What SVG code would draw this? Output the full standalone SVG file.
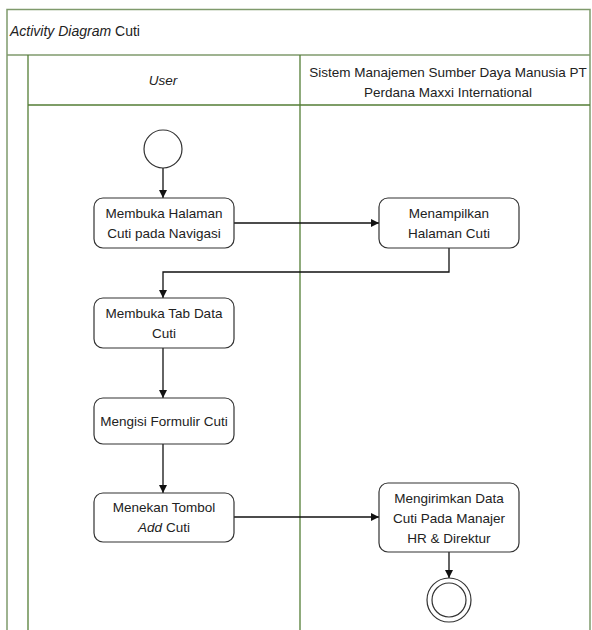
<svg xmlns="http://www.w3.org/2000/svg" width="592" height="630" viewBox="0 0 592 630">
  <style>
    text { font-family: "Liberation Sans", Arial, sans-serif; font-size: 13.5px; fill: #222; }
    .c { text-anchor: middle; }
    .it { font-style: italic; }
    .title { font-size: 14px; }
    .frame { fill: none; stroke: #7f9a6c; stroke-width: 1.5; }
    .lane { fill: none; stroke: #537d35; stroke-width: 1.3; }
    .act { fill: #fff; stroke: #333; stroke-width: 1.2; }
    .flow { fill: none; stroke: #111; stroke-width: 1.3; }
  </style>
  <defs>
    <marker id="arrow" markerWidth="10" markerHeight="10" refX="9" refY="5" orient="auto" markerUnits="userSpaceOnUse">
      <path d="M1,1 L9,5 L1,9 Z" fill="#111"/>
    </marker>
  </defs>
  <rect width="592" height="630" fill="#fff"/>

  <!-- swimlane frame -->
  <g id="frame">
    <path class="frame" d="M7,640 V9.5 H590 V640"/>
    <line class="frame" x1="7" y1="55" x2="590" y2="55"/>
    <text class="title" x="10" y="36"><tspan class="it">Activity Diagram</tspan> Cuti</text>
    <path class="lane" d="M28,640 V55"/>
    <line class="lane" x1="28" y1="105" x2="590" y2="105"/>
    <line class="lane" x1="300" y1="55" x2="300" y2="640"/>
    <text class="c it" x="163" y="85">User</text>
    <text class="c" x="448" y="77">Sistem Manajemen Sumber Daya Manusia PT</text>
    <text class="c" x="448" y="97">Perdana Maxxi International</text>
  </g>

  <!-- connectors -->
  <g id="connectors">
    <line class="flow" x1="163" y1="168" x2="163" y2="198" marker-end="url(#arrow)"/>
    <line class="flow" x1="234" y1="223" x2="379" y2="223" marker-end="url(#arrow)"/>
    <path class="flow" d="M449,248 V272 H163 V298" marker-end="url(#arrow)"/>
    <line class="flow" x1="163" y1="348" x2="163" y2="398" marker-end="url(#arrow)"/>
    <line class="flow" x1="163" y1="444" x2="163" y2="493" marker-end="url(#arrow)"/>
    <line class="flow" x1="234" y1="517" x2="379" y2="517" marker-end="url(#arrow)"/>
    <line class="flow" x1="449" y1="552" x2="449" y2="578" marker-end="url(#arrow)"/>
  </g>

  <g id="start">
    <circle cx="163" cy="149" r="19" fill="#fff" stroke="#333" stroke-width="1.2"/>
  </g>

  <g id="open-cuti-page">
    <rect class="act" x="94" y="198" width="140" height="50" rx="9"/>
    <text class="c" x="164" y="218">Membuka Halaman</text>
    <text class="c" x="164" y="238">Cuti pada Navigasi</text>
  </g>

  <g id="show-cuti-page">
    <rect class="act" x="379" y="198" width="140" height="50" rx="9"/>
    <text class="c" x="449" y="218">Menampilkan</text>
    <text class="c" x="449" y="238">Halaman Cuti</text>
  </g>

  <g id="open-data-tab">
    <rect class="act" x="94" y="298" width="140" height="50" rx="9"/>
    <text class="c" x="164" y="318">Membuka Tab Data</text>
    <text class="c" x="164" y="338">Cuti</text>
  </g>

  <g id="fill-form">
    <rect class="act" x="94" y="398" width="140" height="46" rx="9"/>
    <text class="c" x="164" y="426">Mengisi Formulir Cuti</text>
  </g>

  <g id="press-add">
    <rect class="act" x="94" y="493" width="140" height="49" rx="9"/>
    <text class="c" x="164" y="512">Menekan Tombol</text>
    <text class="c" x="164" y="532"><tspan class="it">Add</tspan> Cuti</text>
  </g>

  <g id="send-data">
    <rect class="act" x="379" y="483" width="140" height="69" rx="9"/>
    <text class="c" x="449" y="503">Mengirimkan Data</text>
    <text class="c" x="449" y="523">Cuti Pada Manajer</text>
    <text class="c" x="449" y="543">HR &amp; Direktur</text>
  </g>

  <g id="end">
    <circle cx="449" cy="600" r="22" fill="#fff" stroke="#333" stroke-width="1.2"/>
    <circle cx="449" cy="600" r="17" fill="#fff" stroke="#333" stroke-width="1.2"/>
  </g>
</svg>
